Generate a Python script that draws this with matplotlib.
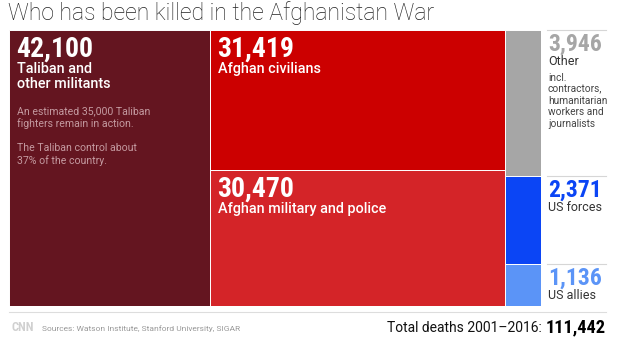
import matplotlib
matplotlib.use("Agg")
import matplotlib.pyplot as plt
from matplotlib.patches import Rectangle
from matplotlib.lines import Line2D
from matplotlib.transforms import blended_transform_factory

# data
groups = ["Taliban and other militants", "Afghan civilians", "Afghan military and police",
          "Other", "US forces", "US allies"]
deaths = [42100, 31419, 30470, 3946, 2371, 1136]
columns = [[0], [1, 2], [3, 4, 5]]
colors = ["#641520", "#cc0000", "#d42428", "#a6a6a6", "#0b45f5", "#5b94f7"]
number_colors = ["white", "white", "white", "#a6a6a6", "#0b45f5", "#5b94f7"]
inner_labels = {0: ["Taliban and", "other militants"],
                1: ["Afghan civilians"],
                2: ["Afghan military and police"]}
taliban_notes = [["An estimated 35,000 Taliban", "fighters remain in action."],
                 ["The Taliban control about", "37% of the country."]]
side_labels = {3: ["Other"], 4: ["US forces"], 5: ["US allies"]}
other_note = ["incl.", "contractors,", "humanitarian", "workers and", "journalists"]

title = "Who has been killed in the Afghanistan War"
source = "Sources: Watson Institute, Stanford University, SIGAR"
total_label = "Total deaths 2001\u20132016: "
total = sum(deaths)

W, H = 640, 346
fig = plt.figure(figsize=(W / 100, H / 100), dpi=100)
fig.patch.set_facecolor("white")

NUM_FONT = ["Roboto Condensed", "DejaVu Sans"]
TXT_FONT = ["Roboto", "DejaVu Sans"]


def fx(x):
    return x / W


def fy(y):
    return 1 - y / H


# treemap axes (pixels 9..541 x 30..306)
ax = fig.add_axes([fx(9), fy(306), 532 / W, 276 / H])
ax.set_xlim(0, total)
ax.set_ylim(1, 0)
ax.axis("off")

rects = {}
x0 = 0
for col in columns:
    col_sum = sum(deaths[i] for i in col)
    y0 = 0
    for i in col:
        h = deaths[i] / col_sum
        ax.add_patch(Rectangle((x0, y0), col_sum, h, facecolor=colors[i],
                               edgecolor="white", linewidth=0.7))
        rects[i] = (x0, y0, col_sum, h)
        y0 += h
    x0 += col_sum

# labels inside the big boxes
for i, lines in inner_labels.items():
    rx, ry, rw, rh = rects[i]
    ax.annotate(f"{deaths[i]:,}", (rx, ry), xytext=(7, -27), textcoords="offset pixels",
                color="white", fontsize=20, fontweight="bold", family=NUM_FONT,
                va="baseline", ha="left")
    for k, line in enumerate(lines):
        ax.annotate(line, (rx, ry), xytext=(8, -43 - 15 * k), textcoords="offset pixels",
                    color="white", fontsize=10.4, fontweight="medium", family=TXT_FONT,
                    va="baseline", ha="left")

rx, ry, rw, rh = rects[0]
yoff = -84
for para in taliban_notes:
    for line in para:
        ax.annotate(line, (rx, ry), xytext=(8, yoff), textcoords="offset pixels",
                    color="#c49aa0", fontsize=7.6, family=TXT_FONT,
                    va="baseline", ha="left")
        yoff -= 13
    yoff -= 11

# labels to the right of the small column
bt = blended_transform_factory(ax.transAxes, ax.transData)
for i, lines in side_labels.items():
    rx, ry, rw, rh = rects[i]
    ax.add_line(Line2D([1 + 6 / 532, 1 + 65 / 532], [ry, ry], transform=bt,
                       color="#d6d6d6", linewidth=0.8, clip_on=False))
    ax.annotate(f"{deaths[i]:,}", (total, ry), xytext=(7, -21), textcoords="offset pixels",
                color=number_colors[i], fontsize=17, fontweight="bold", family=NUM_FONT,
                va="baseline", ha="left", annotation_clip=False)
    for k, line in enumerate(lines):
        ax.annotate(line, (total, ry), xytext=(7, -35 - 13 * k), textcoords="offset pixels",
                    color="#333333", fontsize=9, family=TXT_FONT,
                    va="baseline", ha="left", annotation_clip=False)

rx, ry, rw, rh = rects[3]
for k, line in enumerate(other_note):
    ax.annotate(line, (total, ry), xytext=(7, -51 - 11.5 * k), textcoords="offset pixels",
                color="#444444", fontsize=7.3, family=TXT_FONT,
                va="baseline", ha="left", annotation_clip=False)

# title
fig.text(fx(8), fy(20), title, fontsize=16.6, fontweight="light", family=TXT_FONT,
         color="#222222", va="baseline", ha="left")

# footer
fig.add_artist(Line2D([fx(9), fx(606)], [fy(312), fy(312)], color="#dddddd", linewidth=0.8))
fig.text(fx(11), fy(331), "CNN", fontsize=9, fontweight="bold", family=NUM_FONT,
         color="#d0d0d0", va="baseline", ha="left")
fig.text(fx(42), fy(331), source, fontsize=6, family=TXT_FONT,
         color="#999999", va="baseline", ha="left")
tot = fig.text(fx(606), fy(332), f"{total:,}", fontsize=13.2, fontweight="bold",
               family=NUM_FONT, color="black", va="baseline", ha="right")
fig.canvas.draw()
bb = tot.get_window_extent()
fig.text(bb.x0 / W - 1 / W, fy(332), total_label, fontsize=10, family=TXT_FONT,
         color="#111111", va="baseline", ha="right")

fig.savefig("out.png", dpi=100, facecolor="white")
